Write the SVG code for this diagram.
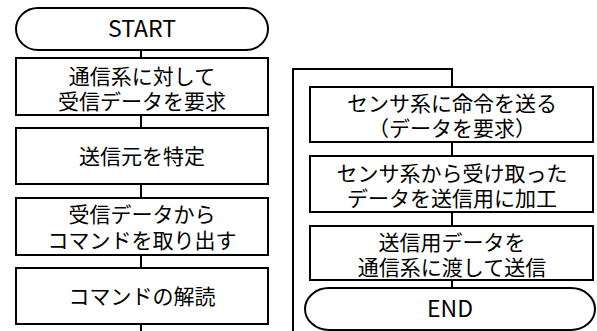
<svg xmlns="http://www.w3.org/2000/svg" width="597" height="331" viewBox="0 0 597 331">
<style>
.b{fill:#fff;stroke:#000;stroke-width:2}
.c{fill:none;stroke:#000;stroke-width:2}
text{font-family:"Noto Sans CJK JP","Noto Sans",sans-serif;font-size:21px;fill:#000;text-anchor:middle}
.t{font-size:23px}
</style>
<rect width="597" height="331" fill="#fff"/>
<g id="connectors">
<path class="c" d="M141 50V58M141 115V128M141 184V198M141 255V268M141 324V331"/>
<path class="c" d="M293 331V69H452V87M452 142V156M452 212V226M452 280V288"/>
</g>
<g id="start"><rect class="b" x="16" y="8" width="252" height="42" rx="22" ry="21"/><text class="t" x="142" y="37">START</text></g>
<g id="n1"><rect class="b" x="16" y="58" width="252" height="57"/><text x="142" y="84">通信系に対して</text><text x="142" y="109">受信データを要求</text></g>
<g id="n2"><rect class="b" x="16" y="128" width="252" height="56"/><text x="142" y="164">送信元を特定</text></g>
<g id="n3"><rect class="b" x="16" y="198" width="252" height="57"/><text x="142" y="222">受信データから</text><text x="142" y="248">コマンドを取り出す</text></g>
<g id="n4"><rect class="b" x="16" y="268" width="252" height="56"/><text x="142" y="304">コマンドの解読</text></g>
<g id="r1"><rect class="b" x="310" y="87" width="283" height="55"/><text x="452" y="111">センサ系に命令を送る</text><text x="452" y="136">（データを要求）</text></g>
<g id="r2"><rect class="b" x="310" y="156" width="283" height="56"/><text x="452" y="181">センサ系から受け取った</text><text x="452" y="206">データを送信用に加工</text></g>
<g id="r3"><rect class="b" x="310" y="226" width="283" height="54"/><text x="452" y="250">送信用データを</text><text x="452" y="275">通信系に渡して送信</text></g>
<g id="end"><rect class="b" x="305" y="288" width="290" height="42" rx="24" ry="21"/><text class="t" x="450" y="317">END</text></g>
</svg>
